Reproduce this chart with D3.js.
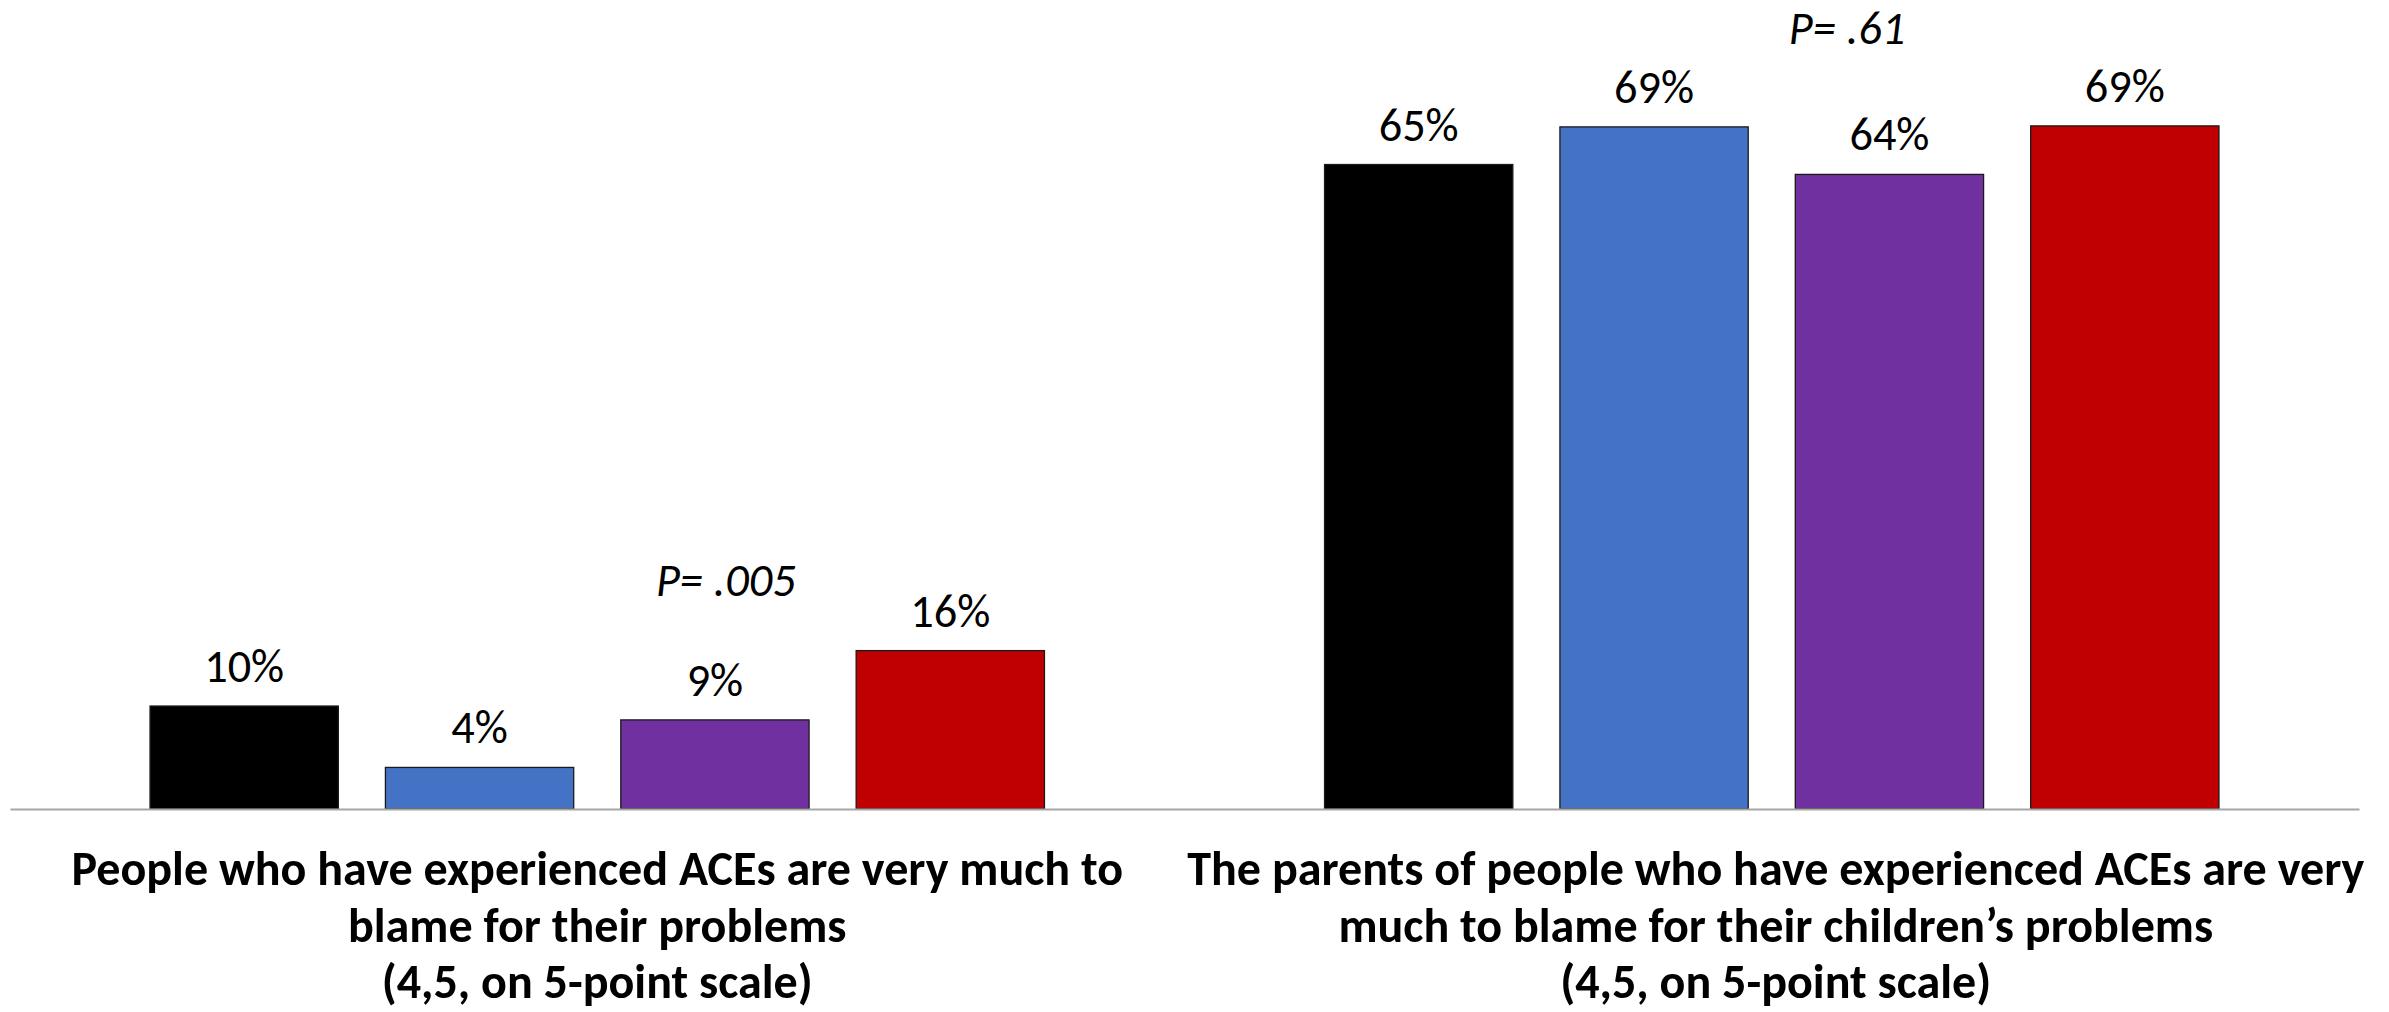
<!DOCTYPE html>
<html>
<head>
<meta charset="utf-8">
<script src="https://cdn.jsdelivr.net/npm/d3@7"></script>
<style>
  html, body { margin: 0; padding: 0; background: #fff; }
  svg { display: block; }
</style>
</head>
<body>
<svg id="chart" width="2389" height="1012"></svg>
<script>
// ---- data ----
const categories = [
  ["People who have experienced ACEs are very much to", "blame for their problems", "(4,5, on 5-point scale)"],
  ["The parents of people who have experienced ACEs are very", "much to blame for their children\u2019s problems", "(4,5, on 5-point scale)"]
];
const categoryKeys = ["self", "parents"];
const seriesKeys = ["Series 1", "Series 2", "Series 3", "Series 4"];
const seriesColors = ["#000000", "#4472C4", "#7030A0", "#C00000"];
const valuesSelf = [10.4, 4.2, 9.0, 16.0];
const valuesParents = [65.1, 68.9, 64.1, 69.0];
const pLabels = ["P= .005", "P= .61"];
const pLabelYValues = [21.5, 77.3];

// ---- layout ----
const svg = d3.select("#chart");
const FONT = "Carlito, Calibri, Lato, 'Open Sans', sans-serif";

const x0 = d3.scaleBand().domain(categoryKeys).range([10, 2359]).padding(0);
const x1 = d3.scaleBand().domain(seriesKeys).range([0, x0.bandwidth()])
  .paddingInner(0.2).paddingOuter(0.595);
const y = d3.scaleLinear().domain([0, 80]).range([809, 17]);
const color = d3.scaleOrdinal().domain(seriesKeys).range(seriesColors);

const rows = [valuesSelf, valuesParents].flatMap((vals, gi) =>
  vals.map((v, si) => ({ cat: categoryKeys[gi], key: seriesKeys[si], value: v })));

// helper: fit a font size so a reference string reaches a target width
function fitSize(sel, node, target, base) {
  const w = node.getComputedTextLength();
  if (w > 0) sel.attr("font-size", Math.min(base * 1.4, base * target / w));
}

// bars
svg.append("g").selectAll("rect").data(rows).join("rect")
  .attr("x", d => x0(d.cat) + x1(d.key))
  .attr("y", d => y(d.value))
  .attr("width", x1.bandwidth())
  .attr("height", d => y(0) - y(d.value))
  .attr("fill", d => color(d.key))
  .attr("stroke", "#1a1a1a")
  .attr("stroke-width", 1.3);

// axis baseline
const xAxis = d3.axisBottom(x0).tickSize(0).tickFormat("");
const gx = svg.append("g").attr("transform", `translate(0,${y(0)})`).call(xAxis);
gx.select(".domain").attr("stroke", "#A6A6A6").attr("stroke-width", 2);

// value labels
const vl = svg.append("g").selectAll("text").data(rows).join("text")
  .attr("x", d => x0(d.cat) + x1(d.key) + x1.bandwidth() / 2)
  .attr("y", d => y(d.value) - 24)
  .attr("text-anchor", "middle")
  .attr("font-family", FONT)
  .attr("font-size", 40)
  .attr("fill", "#000")
  .text(d => d3.format(".0f")(d.value) + "%");
fitSize(vl, vl.nodes()[0], 80, 40);

// p-value annotations
const pOffsets = [0.6095, 0.5641];
const pl = svg.append("g").selectAll("text").data(pLabels).join("text")
  .attr("x", (d, i) => x0(categoryKeys[i]) + x0.bandwidth() * pOffsets[i])
  .attr("y", (d, i) => y(pLabelYValues[i]))
  .attr("text-anchor", "middle")
  .attr("font-family", FONT)
  .attr("font-style", "italic")
  .attr("font-size", 40)
  .attr("fill", "#000")
  .text(d => d);
fitSize(pl, pl.nodes()[0], 140, 40);

// category labels (multi-line, bold)
const lineBaselines = [885, 942, 998];
const catG = svg.append("g");
categories.forEach((lines, gi) => {
  const cx = x0(categoryKeys[gi]) + x0.bandwidth() / 2 + (gi === 0 ? 0 : 4);
  lines.forEach((ln, li) => {
    catG.append("text")
      .attr("class", "catlabel")
      .attr("x", cx)
      .attr("y", lineBaselines[li])
      .attr("text-anchor", "middle")
      .attr("font-family", FONT)
      .attr("font-weight", "bold")
      .attr("font-size", 40)
      .attr("fill", "#000")
      .text(ln);
  });
});
const catLabels = catG.selectAll("text.catlabel");
fitSize(catLabels, catLabels.node(), 1052, 40);
</script>
</body>
</html>
